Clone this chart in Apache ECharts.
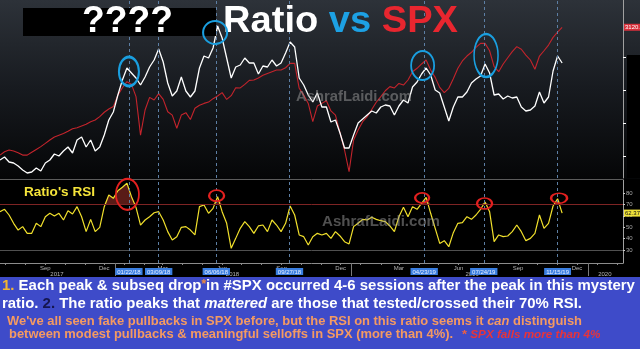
<!DOCTYPE html>
<html><head><meta charset="utf-8">
<script src="https://cdn.jsdelivr.net/npm/echarts@6/dist/echarts.min.js"></script>
<style>html,body{margin:0;padding:0;background:#000;}#c{width:640px;height:349px;}</style>
</head><body><div id="c"></div>
<script>
// ---------- DATA (weekly samples) ----------
const startDate = '2017-07-07';
const ratio = [
  1.18,1.21,1.16,1.15,1.12,1.08,1.05,1.06,1.10,1.07,
  1.15,1.18,1.24,1.22,1.27,1.31,1.25,1.38,1.41,1.31,
  1.38,1.27,1.31,1.43,1.58,1.66,1.83,1.98,2.10,2.05,
  2.00,1.93,2.01,2.11,2.18,2.29,2.16,1.95,1.82,1.87,
  2.01,1.87,1.81,1.87,2.10,2.22,2.20,2.30,2.52,2.40,
  2.20,2.00,2.11,2.13,2.20,2.15,2.15,2.04,2.12,2.11,
  2.18,2.12,2.15,2.25,2.36,2.31,2.00,1.93,1.83,1.76,
  1.85,1.71,1.71,1.56,1.58,1.45,1.30,1.30,1.43,1.55,
  1.59,1.63,1.67,1.65,1.71,1.73,1.72,1.63,1.72,1.78,
  1.75,1.91,1.96,2.04,2.10,2.03,1.88,1.85,1.71,1.57,
  1.71,1.81,1.81,1.86,1.95,1.99,2.02,2.14,2.05,1.83,
  1.84,1.79,1.82,1.80,1.81,1.71,1.67,1.68,1.72,1.86,
  1.75,1.81,2.07,2.22,2.15
];
const spx = [
  2443,2461,2470,2465,2456,2443,2443,2458,2473,2488,
  2505,2523,2539,2548,2557,2569,2583,2588,2597,2606,
  2620,2629,2647,2670,2687,2700,2761,2800,2832,2818,
  2753,2549,2682,2749,2735,2769,2738,2673,2655,2585,
  2655,2668,2632,2691,2707,2717,2724,2742,2756,2774,
  2738,2758,2800,2799,2818,2839,2841,2852,2866,2876,
  2885,2894,2894,2906,2929,2929,2797,2761,2717,2620,
  2703,2717,2731,2677,2655,2562,2470,2355,2523,2576,
  2620,2647,2685,2723,2753,2784,2806,2799,2823,2814,
  2841,2885,2903,2926,2947,2894,2855,2802,2774,2797,
  2848,2903,2942,2968,2988,3014,3035,3035,2996,2912,
  2885,2926,2959,2991,3018,3004,2973,2947,2898,2968,
  2996,3026,3067,3095,3120.46
];
const rsi = [
  63.6,65.7,60.7,53.4,47.5,50.5,44.6,44.6,53.4,50.5,
  59.2,62.2,59.8,62.2,56.3,64.5,61.6,68.0,59.2,46.1,
  56.9,46.1,49.9,68.0,78.2,75.3,82.0,85.0,88.5,76.8,
  67.4,51.9,56.3,59.2,62.7,63.6,56.3,46.1,38.8,41.7,
  49.9,50.5,47.5,43.2,68.0,69.5,62.2,66.5,76.8,63.6,
  53.4,31.5,40.2,49.0,54.9,50.5,44.6,51.1,51.9,46.1,
  56.3,51.9,46.1,53.4,68.6,60.7,43.2,41.7,34.4,41.7,
  44.6,43.2,44.6,40.2,46.1,42.3,37.3,35.3,50.5,53.4,
  56.9,56.3,58.7,56.9,55.7,54.9,51.1,46.1,59.2,67.4,
  59.2,68.0,65.7,70.9,76.2,62.2,49.0,35.8,38.2,32.9,
  45.2,53.4,54.0,59.2,56.9,60.7,65.7,72.1,63.6,37.3,
  43.2,41.7,42.3,46.1,51.9,46.1,38.2,40.2,44.6,60.7,
  49.0,53.4,68.6,75.0,62.37
];
const monthTickDates = ['2017-09-15','2017-12-15','2018-03-15','2018-06-15','2018-09-15','2018-12-15','2019-03-15','2019-06-15','2019-09-15','2019-12-15'];
const monthLabels = ['Sep','Dec','Mar','Jun','Sep','Dec','Mar','Jun','Sep','Dec'];
const yearLabelDates = ['2017-10-03','2018-07-01','2019-07-06','2020-01-27'];
const yearLabels = ['2017','2018','2019','2020'];
const yearBreakDates = ['2018-01-01','2019-01-01','2020-01-01'];
const signalDates = ['2018-01-22','2018-03-09','2018-06-06','2018-09-27','2019-04-23','2019-07-24','2019-11-15'];
const signalLabels = ['01/22/18','03/09/18','06/06/18','09/27/18','04/23/19','07/24/19','11/15/19'];
const rsiTicks = [30,40,50,60,70,80];
const rsiBands = [70,30];
const ratioTicks = [1.22,1.55,1.88,2.21];
const ratioPeaks = [28,48,94,107];
const rsiPeaks = [28,48,94,107,123];

// ---------- CHART ----------
const FONT = '"Liberation Sans", Arial, sans-serif';
const DAY = 86400000;
const toT = s => Date.parse(s + 'T00:00:00Z');
const t0 = toT(startDate);
const ts = ratio.map((_, i) => t0 + i * 7 * DAY);
const tMax = t0 + 962 * DAY;
const pairs = arr => arr.map((v, i) => [ts[i], v]);
const monthT = monthTickDates.map(toT);
const yearT = yearLabelDates.map(toT);
const yearBreakT = yearBreakDates.map(toT);
const signalT = signalDates.map(toT);
const minorMonthT = [];
for (let k = 0; k < 32; k++) minorMonthT.push(Date.UTC(2017, 6 + k, 15));
const near = (arr, v) => arr.findIndex(a => Math.abs(a - v) < DAY);

const chart = echarts.init(document.getElementById('c'), null, {renderer: 'canvas', width: 640, height: 349});

const lastRsi = rsi[rsi.length - 1];
const lastSpx = spx[spx.length - 1];
const HIDDEN_LINE = {color: 'rgba(0,0,0,0)', width: 0};

const option = {
  animation: false,
  backgroundColor: '#000',
  grid: [
    {left: 0, right: 17, top: 0, height: 178},
    {left: 0, right: 17, top: 180, height: 83}
  ],
  xAxis: [
    {type: 'value', gridIndex: 0, min: t0, max: tMax, show: false, splitLine: {show: false}},
    {type: 'value', gridIndex: 1, min: t0, max: tMax, position: 'bottom',
      axisLine: {show: true, lineStyle: {color: '#8c8c8c', width: 1}},
      axisTick: {show: true, customValues: minorMonthT, length: 2, lineStyle: {color: '#8c8c8c'}},
      axisLabel: {show: true, customValues: monthT, color: '#b4b4b4', fontSize: 6, fontFamily: FONT, margin: 2,
        formatter: v => { const k = near(monthT, v); return k >= 0 ? monthLabels[k] : ''; }},
      splitLine: {show: false}},
    {type: 'value', gridIndex: 1, min: t0, max: tMax, position: 'bottom',
      axisLine: {show: false},
      axisTick: {show: true, customValues: yearBreakT, length: 13, lineStyle: {color: '#7a7a7a'}},
      axisLabel: {show: true, customValues: yearT, color: '#b4b4b4', fontSize: 6, fontFamily: FONT, margin: 8,
        formatter: v => { const k = near(yearT, v); return k >= 0 ? yearLabels[k] : ''; }},
      splitLine: {show: false}}
  ],
  yAxis: [
    {type: 'value', gridIndex: 0, min: 1.0, max: 2.78, position: 'right',
      axisLine: {show: true, lineStyle: {color: '#a0a0a0'}},
      axisTick: {show: true, customValues: ratioTicks, length: 3, lineStyle: {color: '#ffffff'}},
      axisLabel: {show: false}, splitLine: {show: false}},
    {type: 'value', gridIndex: 0, min: 2321.6, max: 3265, show: false, splitLine: {show: false}},
    {type: 'value', gridIndex: 1, min: 18.6, max: 91.4, position: 'right',
      axisLine: {show: true, lineStyle: {color: '#a0a0a0'}},
      axisTick: {show: true, customValues: rsiTicks, length: 2, lineStyle: {color: '#cccccc'}},
      axisLabel: {show: true, customValues: rsiTicks, color: '#a8a8a8', fontSize: 6, fontFamily: FONT, margin: 3},
      splitLine: {show: false}}
  ],
  series: [
    {name: 'SPX', type: 'line', xAxisIndex: 0, yAxisIndex: 1, data: pairs(spx), symbol: 'none',
      lineStyle: {color: '#c4242c', width: 1.1}, z: 3,
      markLine: {silent: true, symbol: 'none', z: 20, data: [
        {yAxis: lastSpx, lineStyle: HIDDEN_LINE,
          label: {show: true, position: 'end', distance: 1, formatter: String(lastSpx), color: '#fff',
            backgroundColor: '#d6303b', fontSize: 6, fontFamily: FONT, padding: [1, 1, 0, 1]}}
      ]}},
    {name: 'Ratio', type: 'line', xAxisIndex: 0, yAxisIndex: 0, data: pairs(ratio), symbol: 'none',
      lineStyle: {color: '#ffffff', width: 1.3}, z: 4,
      markLine: {silent: true, symbol: 'none', label: {show: false},
        lineStyle: {color: '#5d7fa4', type: [3, 3], width: 1},
        data: signalT.map(t => ({xAxis: t}))}},
    {name: 'RSI70', type: 'line', xAxisIndex: 1, yAxisIndex: 2,
      data: rsi.map((v, i) => [ts[i], Math.max(v, rsiBands[0])]), symbol: 'none',
      lineStyle: {width: 0}, areaStyle: {origin: rsiBands[0], color: 'rgba(150,45,38,0.85)'}, z: 2,
      markLine: {silent: true, symbol: 'none', label: {show: false}, data: [
        {yAxis: rsiBands[0], lineStyle: {color: '#7e2424', width: 1, type: 'solid'}},
        {yAxis: rsiBands[1], lineStyle: {color: '#505050', width: 1, type: 'solid'}}
      ]}},
    {name: 'RSI', type: 'line', xAxisIndex: 1, yAxisIndex: 2, data: pairs(rsi), symbol: 'none',
      lineStyle: {color: '#f1e02c', width: 1.2}, z: 4,
      markLine: {silent: true, symbol: 'none', z: 20, data: signalT.map((t, i) => ({
          xAxis: t, lineStyle: {color: '#5d7fa4', type: [3, 3], width: 1},
          label: {show: true, position: 'start', distance: 5, formatter: signalLabels[i], color: '#e6eeff',
            backgroundColor: '#3a7ee0', fontSize: 6, fontFamily: FONT, padding: [1, 2, 0, 2]}
        })).concat([
          {yAxis: lastRsi, lineStyle: HIDDEN_LINE,
            label: {show: true, position: 'end', distance: 1, formatter: String(lastRsi), color: '#111',
              backgroundColor: '#efe23a', fontSize: 6, fontFamily: FONT, padding: [1, 1, 0, 1]}}
        ])}}
  ]
};
chart.setOption(option);

// ---------- ANNOTATIONS ----------
const mctx = document.createElement('canvas').getContext('2d');
const fit = (text, font, width) => { mctx.font = font; return width / mctx.measureText(text).width; };
const ring = (p, dx, dy, rx, ry, color) => ({type: 'circle', x: p[0] + dx, y: p[1] + dy, scaleX: rx / 10, scaleY: ry / 10,
  shape: {cx: 0, cy: 0, r: 10}, style: {fill: 'transparent', stroke: color, lineWidth: 2, strokeNoScale: true}, z: 60, silent: true});
const pR = i => chart.convertToPixel({xAxisIndex: 0, yAxisIndex: 0}, [ts[i], ratio[i]]);
const pY = i => chart.convertToPixel({xAxisIndex: 1, yAxisIndex: 2}, [ts[i], rsi[i]]);

const blueAdj = [[2, 3.5, 10, 14.5], [-2.5, 6.5, 12, 11.5], [-3.5, -2.5, 11.5, 14.5], [1, -8.5, 12, 21.5]];
const redAdj = [[0.5, 11, 11.5, 15.5], [-1, -1, 7.5, 5.5], [-4, 0.5, 7, 5], [-0.5, 1.5, 7.5, 5.5], [1.5, -0.5, 8, 5]];

const B = (size, it) => (it ? 'italic ' : '') + 'bold ' + size + 'px ' + FONT;
const g = [];
g.push({type: 'rect', z: -10, silent: true, shape: {x: 0, y: 0, width: 640, height: 179},
  style: {fill: new echarts.graphic.LinearGradient(0, 0, 0, 1, [
    {offset: 0, color: '#2d3239'}, {offset: 0.5, color: '#171a1f'}, {offset: 1, color: '#050607'}])}});
g.push({type: 'line', z: 5, silent: true, shape: {x1: 0, y1: 179.5, x2: 623, y2: 179.5}, style: {stroke: '#5c5c5c', lineWidth: 1}});
g.push({type: 'rect', z: 50, silent: true, shape: {x: 627, y: 55, width: 13, height: 123}, style: {fill: '#000'}});
g.push({type: 'rect', z: 50, silent: true, shape: {x: 23, y: 8, width: 193, height: 28}, style: {fill: '#000'}});

// titles
const fQ = B(36);
g.push({type: 'text', z: 55, x: 82, y: 22, scaleX: fit('????', fQ, 91),
  style: {text: '????', font: fQ, fill: '#fff', align: 'left', verticalAlign: 'middle'}});
const fT = B(37);
g.push({type: 'text', z: 55, x: 223, y: 21.5, scaleX: fit('Ratio vs SPX', fT, 235),
  style: {text: '{w|Ratio }{b|vs }{r|SPX}', font: fT, fill: '#fff', align: 'left', verticalAlign: 'middle',
    rich: {w: {font: fT, fill: '#ffffff'}, b: {font: fT, fill: '#1da1e4'}, r: {font: fT, fill: '#e8262f'}}}});

// watermarks
const fW = B(15);
g.push({type: 'text', z: 30, x: 296, y: 97, scaleX: fit('AshrafLaidi.com', fW, 116),
  style: {text: 'AshrafLaidi.com', font: fW, fill: 'rgba(160,160,160,0.5)', align: 'left', verticalAlign: 'middle'}});
g.push({type: 'text', z: 30, x: 322, y: 222, scaleX: fit('AshrafLaidi.com', fW, 118),
  style: {text: 'AshrafLaidi.com', font: fW, fill: 'rgba(160,160,160,0.5)', align: 'left', verticalAlign: 'middle'}});

// panel label
const fL = B(13);
g.push({type: 'text', z: 55, x: 24, y: 192, scaleX: fit("Ratio's RSI", fL, 71),
  style: {text: "Ratio's RSI", font: fL, fill: '#f5e43a', align: 'left', verticalAlign: 'middle'}});

// rings
ratioPeaks.forEach((i, k) => { const a = blueAdj[k]; g.push(ring(pR(i), a[0], a[1], a[2], a[3], '#1a9fe0')); });
rsiPeaks.forEach((i, k) => { const a = redAdj[k]; g.push(ring(pY(i), a[0], a[1], a[2], a[3], '#e3201f')); });

// bottom caption
g.push({type: 'rect', z: 40, silent: true, shape: {x: 0, y: 277, width: 640, height: 72}, style: {fill: '#3e4bc9'}});
const f1 = B(15), f1i = B(15, true), fAst = B(12);
const l1 = '1. Each peak & subseq drop*in #SPX occurred 4-6 sessions after the peak in this mystery';
g.push({type: 'text', z: 45, x: 2, y: 286, scaleX: fit(l1, f1, 634),
  style: {text: '{y|1.}{w| Each peak & subseq drop}{a|*}{w|in #SPX occurred 4-6 sessions after the peak in this mystery}',
    font: f1, fill: '#fff', align: 'left', verticalAlign: 'middle',
    rich: {y: {font: f1, fill: '#f2b531'}, w: {font: f1, fill: '#ffffff'}, a: {font: fAst, fill: '#f08a3a', verticalAlign: 'top'}}}});
const l2 = 'ratio. 2. The ratio peaks that mattered are those that tested/crossed their 70% RSI.';
g.push({type: 'text', z: 45, x: 2, y: 304, scaleX: fit(l2, f1, 580),
  style: {text: '{w|ratio. }{n|2.}{w| The ratio peaks that }{i|mattered}{w| are those that tested/crossed their 70% RSI.}',
    font: f1, fill: '#fff', align: 'left', verticalAlign: 'middle',
    rich: {w: {font: f1, fill: '#ffffff'}, n: {font: f1, fill: '#15164f'}, i: {font: f1i, fill: '#ffffff'}}}});
const f3 = B(12), f3i = B(12, true);
const l3 = "We've all seen fake pullbacks in SPX before, but the RSI on this ratio seems it can distinguish";
const s3 = fit(l3, f3, 575);
g.push({type: 'text', z: 45, x: 7, y: 322, scaleX: s3,
  style: {text: "{o|We've all seen fake pullbacks in SPX before, but the RSI on this ratio seems it }{i|can}{o| distinguish}",
    font: f3, fill: '#f49a62', align: 'left', verticalAlign: 'middle',
    rich: {o: {font: f3, fill: '#f49a62'}, i: {font: f3i, fill: '#f49a62'}}}});
g.push({type: 'text', z: 45, x: 9, y: 335, scaleX: s3,
  style: {text: 'between modest pullbacks & meaningful selloffs in SPX (more than 4%).', font: f3, fill: '#f49a62',
    align: 'left', verticalAlign: 'middle'}});
const fN = B(10, true);
g.push({type: 'text', z: 45, x: 462, y: 335, scaleX: fit('* SPX falls more than 4%', fN, 138),
  style: {text: '{a|*} {r|SPX falls more than 4%}', font: fN, fill: '#e8343a', align: 'left', verticalAlign: 'middle',
    rich: {a: {font: B(11), fill: '#f06040'}, r: {font: fN, fill: '#e8343a'}}}});

chart.setOption({graphic: {elements: g}});
</script>
</body></html>
